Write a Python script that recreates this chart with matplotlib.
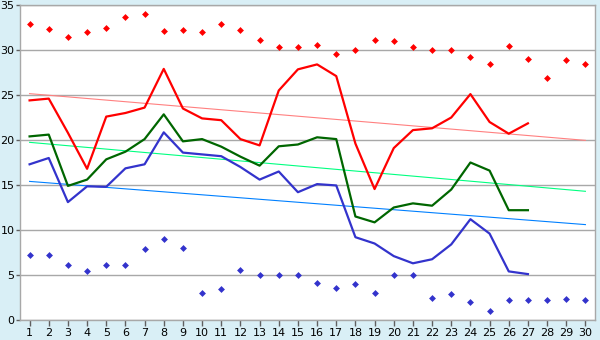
import matplotlib
matplotlib.use("Agg")
import matplotlib.pyplot as plt

days = list(range(1, 31))

# Daily extremes (markers)
max_points = [32.9, 32.3, 31.4, 32.0, 32.4, 33.7, 34.0, 32.1, 32.2, 32.0,
              32.85, 32.2, 31.1, 30.3, 30.3, 30.6, 29.6, 30.0, 31.1, 31.0,
              30.3, 30.0, 30.0, 29.2, 28.4, 30.5, 29.0, 26.9, 28.85, 28.5]
min_points = [7.2, 7.2, 6.1, 5.5, 6.1, 6.1, 7.85, 8.97, 7.96, 2.96,
              3.4, 5.6, 4.96, 5.0, 5.0, 4.07, 3.6, 3.96, 2.96, 5.0,
              5.0, 2.5, 2.85, 1.96, 0.96, 2.2, 2.2, 2.2, 2.3, 2.2]

# Daily series (lines), first 27 days
high_line = [24.4, 24.6, 20.8, 16.8, 22.6, 23.0, 23.6, 27.9, 23.5, 22.4,
             22.2, 20.1, 19.4, 25.5, 27.85, 28.4, 27.1, 19.6, 14.55, 19.1,
             21.1, 21.3, 22.5, 25.1, 22.0, 20.7, 21.85]
mid_line = [20.4, 20.6, 14.9, 15.6, 17.85, 18.7, 20.1, 22.85, 19.85, 20.1,
            19.26, 18.15, 17.15, 19.3, 19.5, 20.3, 20.1, 11.5, 10.85, 12.5,
            12.96, 12.7, 14.5, 17.5, 16.6, 12.2, 12.2]
low_line = [17.3, 18.0, 13.1, 14.85, 14.8, 16.85, 17.3, 20.85, 18.6, 18.4,
            18.2, 17.0, 15.6, 16.5, 14.2, 15.1, 14.95, 9.2, 8.5, 7.1,
            6.3, 6.75, 8.4, 11.2, 9.6, 5.4, 5.1]

# Trend line end values at day 1 and day 30
high_trend = [25.15, 19.96]
mid_trend = [19.74, 14.3]
low_trend = [15.4, 10.6]

y_ticks = [0, 5, 10, 15, 20, 25, 30, 35]

bg = "#D9EFF6"
grid_c = "#A8A8A8"

fig = plt.figure(figsize=(6.0, 3.4), dpi=100, facecolor=bg)
ax = fig.add_axes([20 / 600, 20 / 340, 575 / 600, 315 / 340])
ax.set_facecolor("white")

ax.set_xlim(0.5, 30.5)
ax.set_ylim(0, 35)
ax.set_yticks(y_ticks)
ax.set_xticks(days)
ax.yaxis.grid(True, color=grid_c, linewidth=1.0)
ax.set_axisbelow(True)

for s in ax.spines.values():
    s.set_color(grid_c)
    s.set_linewidth(1.0)

ax.tick_params(axis="x", colors="#606060", labelcolor="black", labelsize=8,
               direction="out", length=4, width=1, pad=2)
ax.tick_params(axis="y", colors="#606060", labelcolor="black", labelsize=8,
               direction="out", length=3, width=1, pad=1)

trend_x = [days[0], days[-1]]
ax.plot(trend_x, high_trend, color="#FF8080", linewidth=0.8)
ax.plot(trend_x, mid_trend, color="#00FF80", linewidth=0.8)
ax.plot(trend_x, low_trend, color="#0080FF", linewidth=0.8)

n = len(high_line)
ax.plot(days[:n], high_line, color="#FF0000", linewidth=1.6)
ax.plot(days[:n], mid_line, color="#006600", linewidth=1.6)
ax.plot(days[:n], low_line, color="#3333CC", linewidth=1.6)

ax.plot(days, max_points, linestyle="none", marker="D", markersize=3.5,
        color="#FF0000", markeredgewidth=0)
ax.plot(days, min_points, linestyle="none", marker="D", markersize=3.5,
        color="#3333CC", markeredgewidth=0)

fig.savefig("out.png", dpi=100, facecolor=bg)
